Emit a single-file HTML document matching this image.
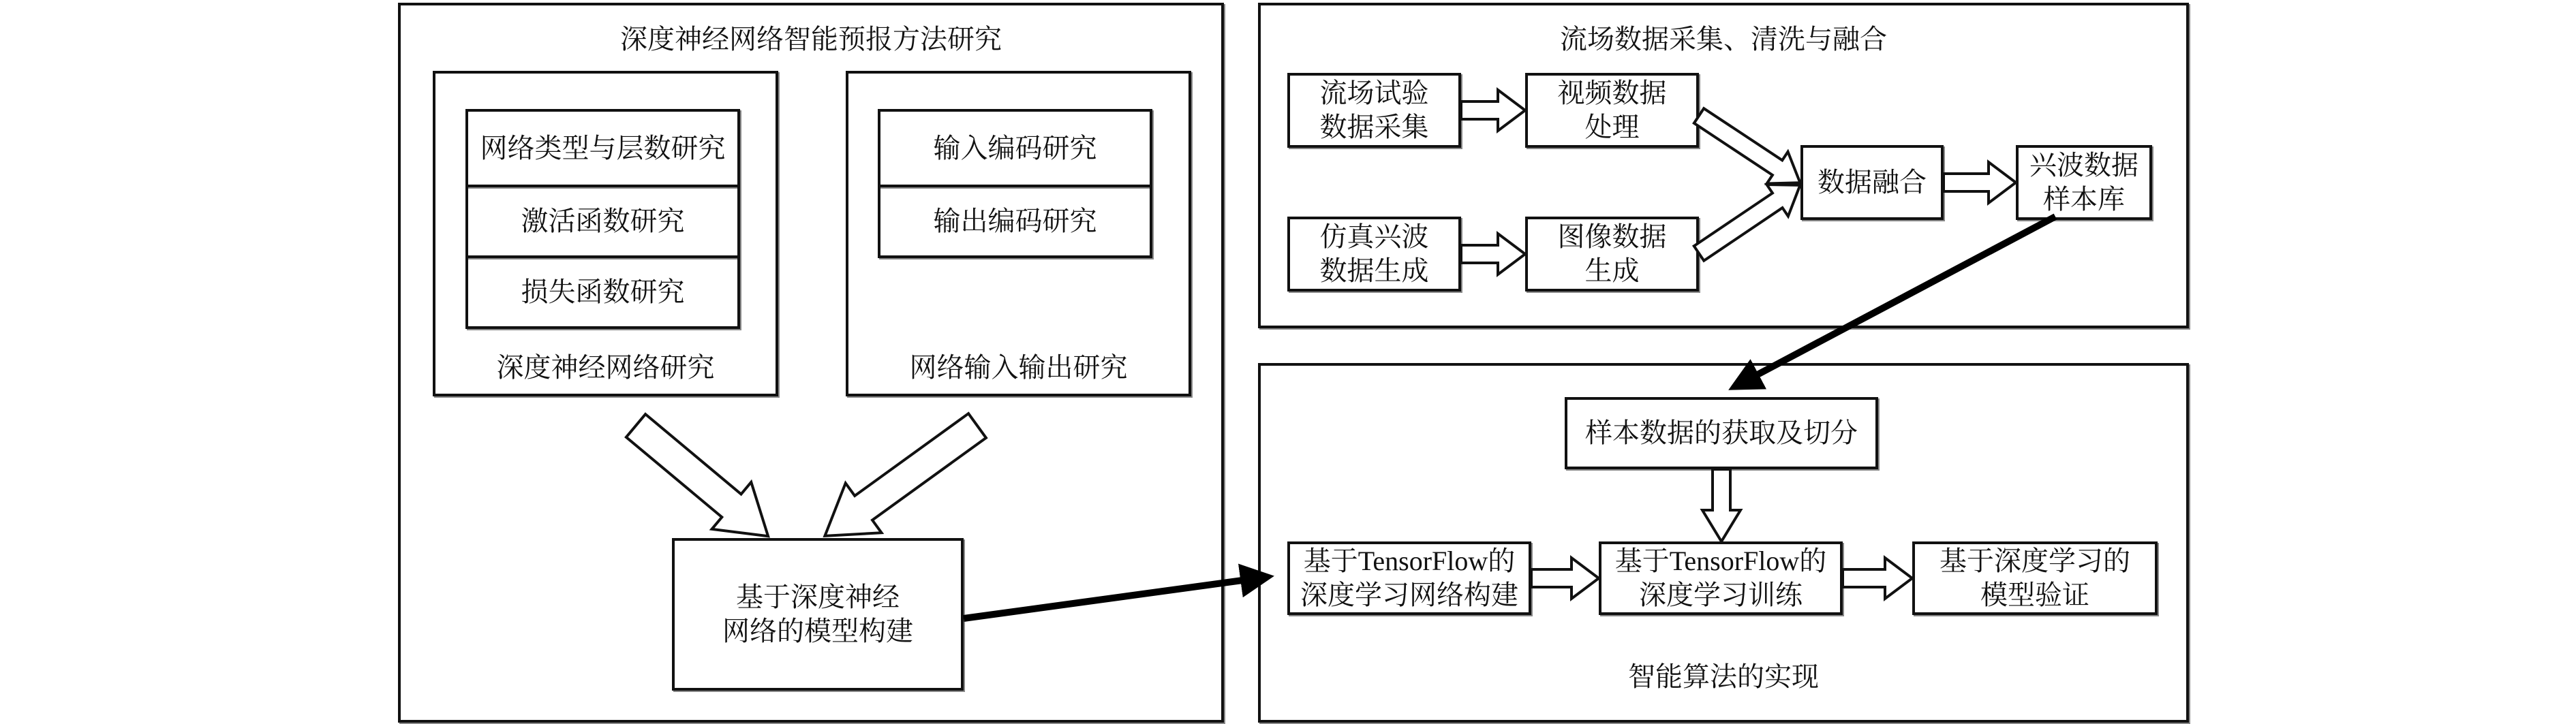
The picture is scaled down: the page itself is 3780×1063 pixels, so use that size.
<!DOCTYPE html>
<html><head><meta charset="utf-8"><style>
body{margin:0;width:3780px;height:1063px;background:#fff;position:relative;overflow:hidden;font-family:"Liberation Serif","Noto Serif CJK SC","Noto Sans CJK SC",serif;}
.b{position:absolute;border:4px solid #111;box-sizing:border-box;box-shadow:2px 2px 0 #888;}
.t{position:absolute;display:flex;align-items:center;justify-content:center;text-align:center;font-size:40px;line-height:50px;color:#111;box-sizing:border-box;}
.l{position:absolute;font-size:40px;color:#111;text-align:center;}
svg{position:absolute;left:0;top:0;}
</style></head><body>
<!-- left big -->
<div class="b" style="left:584px;top:4px;width:1212px;height:1057px;"></div>
<div class="l" style="left:584px;top:26px;width:1212px;">深度神经网络智能预报方法研究</div>
<div class="b" style="left:635px;top:104px;width:507px;height:478px;"></div>
<div class="b t" style="left:683px;top:160px;width:403px;height:115px;">网络类型与层数研究</div>
<div class="b t" style="left:683px;top:271px;width:403px;height:108px;">激活函数研究</div>
<div class="b t" style="left:683px;top:375px;width:403px;height:108px;">损失函数研究</div>
<div class="l" style="left:635px;top:508px;width:507px;">深度神经网络研究</div>
<div class="b" style="left:1241px;top:104px;width:507px;height:478px;"></div>
<div class="b t" style="left:1288px;top:160px;width:403px;height:115px;">输入编码研究</div>
<div class="b t" style="left:1288px;top:271px;width:403px;height:108px;">输出编码研究</div>
<div class="l" style="left:1241px;top:508px;width:507px;">网络输入输出研究</div>
<div class="b t" style="left:986px;top:790px;width:428px;height:224px;">基于深度神经<br>网络的模型构建</div>
<!-- right top -->
<div class="b" style="left:1846px;top:4px;width:1366px;height:478px;"></div>
<div class="l" style="left:1846px;top:26px;width:1366px;">流场数据采集、清洗与融合</div>
<div class="b t" style="left:1889px;top:107px;width:255px;height:110px;">流场试验<br>数据采集</div>
<div class="b t" style="left:2238px;top:107px;width:255px;height:110px;">视频数据<br>处理</div>
<div class="b t" style="left:1889px;top:318px;width:255px;height:110px;">仿真兴波<br>数据生成</div>
<div class="b t" style="left:2238px;top:318px;width:255px;height:110px;">图像数据<br>生成</div>
<div class="b t" style="left:2642px;top:213px;width:210px;height:110px;">数据融合</div>
<div class="b t" style="left:2958px;top:213px;width:200px;height:110px;">兴波数据<br>样本库</div>
<!-- right bottom -->
<div class="b" style="left:1846px;top:533px;width:1366px;height:528px;"></div>
<div class="b t" style="left:2296px;top:583px;width:460px;height:106px;">样本数据的获取及切分</div>
<div class="b t" style="left:1889px;top:795px;width:358px;height:108px;">基于TensorFlow的<br>深度学习网络构建</div>
<div class="b t" style="left:2346px;top:795px;width:358px;height:108px;">基于TensorFlow的<br>深度学习训练</div>
<div class="b t" style="left:2806px;top:795px;width:360px;height:108px;">基于深度学习的<br>模型验证</div>
<div class="l" style="left:1846px;top:962px;width:1366px;">智能算法的实现</div>
<svg width="3780" height="1063" viewBox="0 0 3780 1063">
<defs>
<marker id="ah" markerWidth="5" markerHeight="5" refX="4" refY="2.5" orient="auto" markerUnits="strokeWidth"><path d="M0,0 L5,2.5 L0,5 z" fill="#000"/></marker>
</defs>
<g fill="#fff" stroke="#111" stroke-width="4" stroke-linejoin="miter">
<!-- big hollow arrows -->
<g transform="translate(933,625) rotate(39.9)"><polygon points="0,-22 183,-22 183,-45 253,0 183,45 183,22 0,22"/></g>
<g transform="translate(1434,625) rotate(144.1)"><polygon points="0,-22 206,-22 206,-45 276,0 206,45 206,22 0,22"/></g>
<!-- small horizontal -->
<g transform="translate(2144,162)"><polygon points="0,-13 54,-13 54,-30 94,0 54,30 54,13 0,13"/></g>
<g transform="translate(2144,373)"><polygon points="0,-13 54,-13 54,-30 94,0 54,30 54,13 0,13"/></g>
<g transform="translate(2852,268)"><polygon points="0,-13 66,-13 66,-30 106,0 66,30 66,13 0,13"/></g>
<g transform="translate(2247,849)"><polygon points="0,-13 59,-13 59,-30 99,0 59,30 59,13 0,13"/></g>
<g transform="translate(2704,849)"><polygon points="0,-13 62,-13 62,-30 102,0 62,30 62,13 0,13"/></g>
<!-- diagonal -->
<g transform="translate(2493,170) rotate(33.5)"><polygon points="0,-13 138,-13 138,-28 178,0 138,28 138,13 0,13"/></g>
<g transform="translate(2493,372) rotate(-34)"><polygon points="0,-13 139,-13 139,-28 179,0 139,28 139,13 0,13"/></g>
<!-- vertical -->
<g transform="translate(2526,689) rotate(90)"><polygon points="0,-13 60,-13 60,-28 106,0 60,28 60,13 0,13"/></g>
</g>
<g stroke="#000" stroke-width="10" fill="none">
<line x1="1414" y1="908" x2="1860" y2="847" marker-end="url(#ah)"/>
<line x1="3016" y1="318" x2="2545" y2="568" marker-end="url(#ah)"/>
</g>
</svg>
</body></html>
